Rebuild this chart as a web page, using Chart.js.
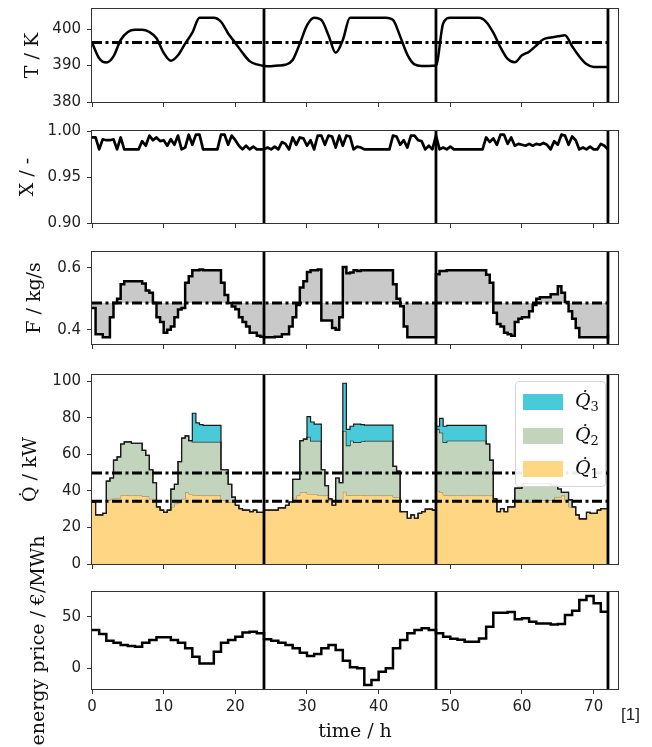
<!DOCTYPE html>
<html>
<head>
<meta charset="utf-8">
<script src="https://cdn.jsdelivr.net/npm/chart.js@4.4.1/dist/chart.umd.min.js"></script>
<style>
  body { margin: 0; background: #fff; }
  #fig { position: relative; width: 652px; height: 747px; overflow: hidden; }
  #fig canvas { position: absolute; left: 0; }
  #legend {
    position: absolute; left: 515px; top: 381px; width: 91px; height: 106px;
    box-sizing: border-box; border: 1px solid #d4d4d4; border-radius: 4px;
    background: rgba(255, 255, 255, 0.92);
  }
  .patch { position: absolute; left: 7px; width: 40px; height: 16px; }
  .lab {
    position: absolute; left: 59px; font-family: "DejaVu Serif"; font-size: 19px;
    line-height: 20px; color: #111;
  }
  .lab i { font-style: italic; }
  .lab sub { font-size: 13px; vertical-align: -4px; font-style: normal; }
  #ref { position: absolute; left: 621px; top: 705px; font-family: "Liberation Sans"; font-size: 17px; color: #222; }
</style>
</head>
<body>
<div id="fig">
  <canvas id="c1"></canvas>
  <canvas id="c2"></canvas>
  <canvas id="c3"></canvas>
  <canvas id="c4"></canvas>
  <canvas id="c5"></canvas>
  <div id="legend"></div>
  <div id="ref">[1]</div>
</div>
<script>
// shared x axis
const xTicks = [0, 10, 20, 30, 40, 50, 60, 70];
const dayMarks = [24, 48, 72];

// T / K, hourly
const tempTicks = [380, 390, 400];
const tempRef = 396.3;
const temp = [
  396.3, 392.0, 390.8, 392.5, 397.0, 399.2, 399.8, 399.8, 399.2, 397.5,
  393.5, 391.3, 392.8, 396.0, 399.0, 403.1, 403.1, 403.1, 402.0, 398.8,
  396.2, 393.5, 391.2, 390.3, 389.9, 389.8, 390.0, 390.2, 391.5, 396.0,
  401.0, 403.1, 402.5, 398.3, 393.5, 397.0, 403.1, 403.1, 403.1, 403.1,
  403.1, 403.1, 402.5, 398.0, 393.0, 390.3, 389.9, 389.9, 390.0, 401.5,
  403.1, 403.1, 403.1, 403.1, 403.1, 402.0, 399.0, 395.0, 391.8, 390.9,
  392.8, 393.8, 395.5, 397.2, 397.7, 398.0, 398.3, 395.3, 392.5, 390.4,
  389.6, 389.6, 389.6
];

// X / -, half-hourly
const convTicks = [0.90, 0.95, 1.00];
const conv = [
  0.993, 0.993, 0.98, 0.991, 0.99, 0.99, 0.991, 0.98, 0.993, 0.98,
  0.98, 0.98, 0.98, 0.98, 0.989, 0.984, 0.995, 0.99, 0.993, 0.989,
  0.99, 0.984, 0.991, 0.985, 0.995, 0.98, 0.982, 0.996, 0.985, 0.996,
  0.996, 0.98, 0.98, 0.98, 0.98, 0.98, 0.996, 0.996, 0.985, 0.995,
  0.99, 0.984, 0.98, 0.984, 0.98, 0.983, 0.98, 0.98, 0.98, 0.982,
  0.98, 0.983, 0.98, 0.988, 0.986, 0.98, 0.993, 0.985, 0.993, 0.992,
  0.984, 0.99, 0.98, 0.995, 0.995, 0.985, 0.995, 0.994, 0.982, 0.995,
  0.984, 0.995, 0.994, 0.98, 0.983, 0.982, 0.98, 0.98, 0.98, 0.98,
  0.98, 0.98, 0.98, 0.98, 0.995, 0.994, 0.985, 0.99, 0.982, 0.995,
  0.995, 0.99, 0.989, 0.98, 0.984, 0.98, 0.995, 0.98, 0.982, 0.98,
  0.983, 0.98, 0.98, 0.98, 0.98, 0.98, 0.98, 0.98, 0.98, 0.98,
  0.993, 0.988, 0.992, 0.985, 0.996, 0.996, 0.986, 0.993, 0.984, 0.986,
  0.985, 0.984, 0.986, 0.984, 0.986, 0.985, 0.987, 0.985, 0.98, 0.989,
  0.985, 0.996, 0.995, 0.985, 0.994, 0.99, 0.98, 0.982, 0.98, 0.983,
  0.98, 0.98, 0.986, 0.984, 0.98
];

// F / kg/s, half-hourly
const flowTicks = [0.4, 0.6];
const flowRef = 0.486;
const flow = [
  0.47, 0.385, 0.385, 0.375, 0.375, 0.44, 0.486, 0.50, 0.547, 0.557,
  0.557, 0.557, 0.557, 0.557, 0.55, 0.527, 0.52, 0.486, 0.44, 0.425,
  0.39, 0.40, 0.41, 0.44, 0.465, 0.47, 0.552, 0.573, 0.593, 0.593,
  0.595, 0.593, 0.593, 0.593, 0.593, 0.593, 0.552, 0.512, 0.486, 0.475,
  0.466, 0.44, 0.425, 0.41, 0.39, 0.39, 0.38, 0.377, 0.375, 0.375,
  0.375, 0.377, 0.377, 0.385, 0.385, 0.41, 0.44, 0.48, 0.537, 0.557,
  0.587, 0.593, 0.593, 0.595, 0.43, 0.43, 0.43, 0.405, 0.40, 0.44,
  0.603, 0.583, 0.585, 0.593, 0.59, 0.593, 0.593, 0.593, 0.593, 0.593,
  0.593, 0.593, 0.593, 0.593, 0.547, 0.50, 0.476, 0.41, 0.375, 0.375,
  0.375, 0.375, 0.375, 0.375, 0.375, 0.375, 0.58, 0.59, 0.59, 0.593,
  0.593, 0.593, 0.593, 0.593, 0.593, 0.593, 0.593, 0.593, 0.593, 0.593,
  0.578, 0.552, 0.455, 0.418, 0.41, 0.39, 0.385, 0.38, 0.425, 0.435,
  0.44, 0.44, 0.46, 0.48, 0.50, 0.505, 0.505, 0.505, 0.515, 0.515,
  0.541, 0.52, 0.49, 0.46, 0.435, 0.405, 0.375, 0.375, 0.375, 0.375,
  0.375, 0.375, 0.375, 0.375, 0.385
];

// Q / kW, half-hourly, three stacked parts
const heatTicks = [0, 20, 40, 60, 80, 100];
const heatRefs = [49.8, 34.3];
const heat1 = [
  33.9, 26.8, 26.8, 27.7, 34.7, 35.6, 36.0, 36.0, 37.7, 37.7,
  37.4, 37.4, 37.4, 37.4, 37.0, 37.0, 35.6, 35.6, 31.2, 29.5,
  28.2, 29.5, 31.2, 33.0, 33.5, 35.6, 39.2, 38.3, 37.7, 37.7,
  37.4, 37.4, 37.4, 37.4, 37.4, 37.4, 34.7, 34.7, 33.9, 33.9,
  32.1, 30.3, 29.5, 29.5, 28.6, 29.5, 28.2, 28.2, 29.5, 29.5,
  29.5, 29.5, 30.7, 30.7, 32.1, 33.9, 35.6, 37.4, 39.2, 39.2,
  38.3, 38.3, 38.3, 37.5, 37.4, 37.4, 34.7, 32.1, 33.9, 33.9,
  39.5, 37.4, 37.7, 37.7, 37.7, 37.7, 37.4, 37.4, 37.4, 37.4,
  37.4, 37.4, 37.4, 37.4, 36.5, 36.5, 28.6, 28.6, 25.0, 26.8,
  25.0, 27.7, 28.6, 30.0, 30.0, 29.5, 40.0, 39.2, 37.7, 37.4,
  37.4, 37.4, 37.4, 37.4, 37.4, 37.4, 37.4, 37.4, 37.4, 37.4,
  37.4, 37.4, 35.6, 28.6, 30.3, 28.6, 31.2, 31.2, 33.9, 33.9,
  33.9, 33.9, 33.9, 34.7, 34.7, 34.7, 34.7, 34.7, 34.7, 36.5,
  36.5, 37.4, 34.7, 31.2, 31.2, 26.8, 24.7, 24.7, 28.2, 27.7,
  27.7, 29.5, 30.3, 30.3, 30.3
];
const heat2 = [
  0, 0, 0, 0, 10.6, 11.4, 20.8, 22.6, 27.9, 29.1,
  29.4, 28.6, 28.6, 28.6, 25.1, 22.4, 15.9, 8.8, 0, 0,
  0, 0, 9.7, 10.6, 22.4, 33.2, 30.8, 29.1, 29.1, 29.1,
  29.4, 29.4, 29.4, 29.4, 29.4, 29.4, 16.8, 16.8, 9.7, 2.6,
  0, 0, 0, 0, 0, 0, 0, 0, 0, 0,
  0, 0, 0, 0, 0, 0, 10.6, 8.8, 28.2, 29.0,
  31.2, 29.0, 29.0, 29.8, 14.1, 5.4, 0.9, 0, 13.1, 10.5,
  33.2, 27.3, 29.7, 28.8, 28.8, 29.3, 29.9, 29.9, 29.9, 29.9,
  29.9, 29.9, 29.9, 29.9, 16.9, 14.3, 0, 0, 0, 0,
  0, 0, 0, 0, 0, 0, 33.6, 32.6, 28.8, 30.0,
  30.0, 30.0, 30.0, 30.0, 30.0, 30.0, 30.0, 30.0, 30.0, 30.0,
  28.2, 19.4, 0, 0, 0, 0, 0, 0, 7.6, 7.6,
  10.1, 10.1, 10.1, 9.3, 9.3, 9.3, 9.3, 9.3, 8.3, 6.5,
  4.5, 1.8, 4.5, 3.8, 0, 0, 0, 0, 0, 0,
  0, 0, 0, 0, 0
];
const heat3 = [
  0, 0, 0, 0, 0, 0, 0, 0, 0, 0,
  0, 0, 0, 0, 0, 0, 0, 0, 0, 0,
  0, 0, 0, 0, 0, 0, 0, 0, 15.6, 10.3,
  9.4, 9.0, 9.0, 9.0, 9.0, 9.0, 0, 0, 0, 0,
  0, 0, 0, 0, 0, 0, 0, 0, 0, 0,
  0, 0, 0, 0, 0, 0, 0, 0, 0, 0,
  11.1, 10.3, 9.2, 9.2, 0, 0, 0, 0, 0, 0,
  26.1, 8.9, 7.9, 10.0, 10.0, 9.2, 8.6, 8.6, 8.6, 8.6,
  8.6, 8.6, 8.6, 8.6, 0, 0, 0, 0, 0, 0,
  0, 0, 0, 0, 0, 0, 1.7, 7.8, 8.8, 8.4,
  8.4, 8.4, 8.4, 8.4, 8.4, 8.4, 8.4, 8.4, 8.4, 8.4,
  0, 0, 0, 0, 0, 0, 0, 0, 0, 0,
  0, 0, 0, 0, 0, 0, 0, 0, 0, 0,
  0, 0, 0, 0, 0, 0, 0, 0, 0, 0,
  0, 0, 0, 0, 0
];
const heatNames = ['1', '2', '3'];

// energy price / €/MWh, hourly
const priceTicks = [0, 50];
const price = [
  37.1, 33.2, 26.8, 24.8, 22.6, 21.6, 21.0, 24.8, 27.4, 30.0,
  30.0, 27.4, 24.8, 19.4, 11.3, 4.8, 4.8, 16.1, 24.8, 27.4,
  30.6, 34.8, 35.5, 33.9, 28.1, 26.8, 24.8, 22.6, 19.4, 15.2,
  11.9, 13.9, 19.4, 22.6, 17.7, 7.3, 1.0, 0.0, -16.1, -11.3,
  -3.2, 0.0, 19.4, 27.4, 33.9, 37.1, 38.7, 37.1, 33.9, 30.6,
  28.7, 27.7, 25.8, 25.8, 29.0, 40.3, 53.9, 53.9, 54.5, 47.4,
  48.4, 45.2, 43.5, 43.5, 42.5, 42.9, 51.6, 55.8, 66.1, 70.0,
  62.9, 54.8, 54.8
];

const heatColors = ['#ffd683', '#c2d4bc', '#48cad8'];

const hours = temp.map((_, i) => i);
const halfHours = conv.map((_, i) => i / 2);
const pts = (xs, ys) => ys.map((y, i) => ({ x: xs[i], y: y }));

const heat12 = heat1.map((v, i) => v + heat2[i]);
const heat123 = heat12.map((v, i) => v + heat3[i]);

const framePlugin = {
  id: 'frame',
  afterDraw(chart) {
    const { ctx, chartArea: a } = chart;
    ctx.save();
    ctx.strokeStyle = '#333';
    ctx.lineWidth = 1;
    ctx.strokeRect(a.left - 0.5, a.top - 0.5, a.right - a.left + 1, a.bottom - a.top + 1);
    ctx.restore();
  }
};

function overlays(yMin, yMax, refs) {
  const out = [];
  dayMarks.forEach(t => out.push({
    data: [{ x: t, y: yMin }, { x: t, y: yMax }],
    borderColor: '#000', borderWidth: 2.8, pointRadius: 0, order: 0
  }));
  refs.forEach(r => out.push({
    data: [{ x: 0, y: r }, { x: 72, y: r }],
    borderColor: '#000', borderWidth: 3, borderDash: [10, 3.5, 3, 3.5],
    pointRadius: 0, order: 0
  }));
  return out;
}

const panels = [
  { id: 'c1', top: 6, bottom: 105, yMin: 380, yMax: 405.5, ticks: tempTicks, dec: 0,
    title: 'T / K', titlePad: 22, refs: [tempRef],
    data: [{ data: pts(hours, temp), borderColor: '#000', borderWidth: 2.5,
             cubicInterpolationMode: 'monotone', pointRadius: 0, order: 1 }] },
  { id: 'c2', top: 128, bottom: 226, yMin: 0.9, yMax: 1.0, ticks: convTicks, dec: 2,
    title: 'X / -', titlePad: 17, refs: [],
    data: [{ data: pts(halfHours, conv), borderColor: '#000', borderWidth: 2.7,
             borderJoinStyle: 'round', pointRadius: 0, order: 1 }] },
  { id: 'c3', top: 249, bottom: 347, yMin: 0.3534, yMax: 0.6518, ticks: flowTicks, dec: 1,
    title: 'F / kg/s', titlePad: 24, refs: [flowRef],
    data: [{ data: pts(halfHours, flow), borderColor: '#000', borderWidth: 2.5, stepped: true,
             fill: { value: flowRef }, backgroundColor: '#c9c9c9', pointRadius: 0, order: 1 }] },
  { id: 'c4', top: 372, bottom: 567, yMin: 0, yMax: 103.3, ticks: heatTicks, dec: 0,
    title: 'Q\u0307 / kW', titlePad: 20, refs: heatRefs,
    data: [
      { data: pts(halfHours, heat1), borderColor: '#9a7b3e', borderWidth: 1, stepped: true,
        fill: 'origin', backgroundColor: heatColors[0], pointRadius: 0, order: 3 },
      { data: pts(halfHours, heat12), borderColor: '#1a1a1a', borderWidth: 1.2, stepped: true,
        fill: '-1', backgroundColor: heatColors[1], pointRadius: 0, order: 2 },
      { data: pts(halfHours, heat123), borderColor: '#1a1a1a', borderWidth: 1.2, stepped: true,
        fill: '-1', backgroundColor: heatColors[2], pointRadius: 0, order: 1 }
    ] },
  { id: 'c5', top: 592, bottom: 689, yMin: -20, yMax: 73.9, ticks: priceTicks, dec: 0,
    title: 'energy price / \u20ac/MWh', titlePad: 28, refs: [], last: true,
    data: [{ data: pts(hours, price), borderColor: '#000', borderWidth: 2.5, stepped: true,
             pointRadius: 0, order: 1 }] }
];

panels.forEach(p => {
  const cv = document.getElementById(p.id);
  const padTop = p.last ? p.top - 530 : 12;
  const xH = p.last ? 747 - p.bottom : 10;
  const padBottom = p.last ? 0 : 2;
  const h = padTop + (p.bottom - p.top) + xH + padBottom;
  cv.width = 652; cv.height = h;
  cv.style.width = '652px'; cv.style.height = h + 'px';
  cv.style.top = (p.top - padTop) + 'px';

  new Chart(cv, {
    type: 'line',
    data: { datasets: p.data.concat(overlays(p.yMin, p.yMax, p.refs)) },
    options: {
      responsive: false, animation: false, devicePixelRatio: 1, events: [],
      layout: { padding: { top: padTop, bottom: padBottom, left: 0, right: 34 } },
      plugins: { legend: { display: false }, tooltip: { enabled: false } },
      scales: {
        x: {
          type: 'linear', min: 0, max: 73.4,
          afterFit: s => { s.height = xH; },
          afterBuildTicks: s => { s.ticks = xTicks.map(v => ({ value: v })); },
          grid: { drawOnChartArea: false, drawTicks: true, tickLength: 5, tickColor: '#333' },
          border: { display: false },
          ticks: { display: !!p.last, padding: 4, autoSkip: false, maxRotation: 0,
                   color: '#222', font: { family: 'DejaVu Sans', size: 15 } },
          title: { display: !!p.last, text: 'time / h', color: '#111',
                   font: { family: 'DejaVu Serif', size: 19 }, padding: { top: 0, bottom: 4 } }
        },
        y: {
          type: 'linear', min: p.yMin, max: p.yMax,
          afterFit: s => { s.width = 92; },
          afterBuildTicks: s => { s.ticks = p.ticks.map(v => ({ value: v })); },
          grid: { drawOnChartArea: false, drawTicks: true, tickLength: 5, tickColor: '#333' },
          border: { display: false },
          ticks: { padding: 6, color: '#222', font: { family: 'DejaVu Sans', size: 15 },
                   callback: v => Number(v).toFixed(p.dec) },
          title: { display: true, text: p.title, color: '#111',
                   font: { family: 'DejaVu Serif', size: 19 }, padding: { top: p.titlePad, bottom: 0 } }
        }
      }
    },
    plugins: [framePlugin]
  });
});

// legend: Q3 on top, Q1 at the bottom
const legend = document.getElementById('legend');
[2, 1, 0].forEach((k, row) => {
  const top = 12 + row * 33.5;
  legend.insertAdjacentHTML('beforeend',
    `<div class="patch" style="top:${top}px;background:${heatColors[k]}"></div>` +
    `<div class="lab" style="top:${top - 4}px"><i>Q&#775;</i><sub>${heatNames[k]}</sub></div>`);
});
</script>
</body>
</html>
